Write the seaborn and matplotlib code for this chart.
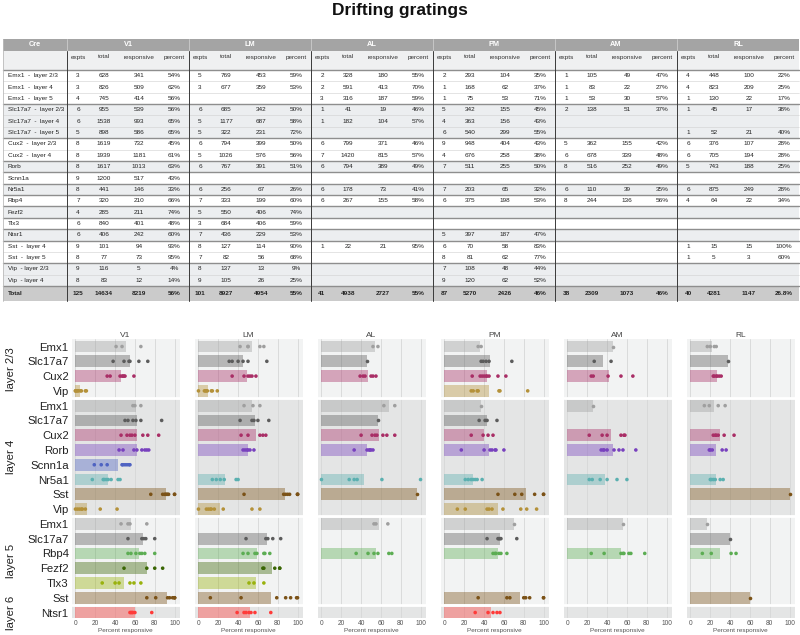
import numpy as np
import pandas as pd
import matplotlib
matplotlib.use("Agg")
from matplotlib import pyplot as plt
from matplotlib.patches import Rectangle
from matplotlib.transforms import blended_transform_factory
import seaborn as sns

AREAS = ["V1", "LM", "AL", "PM", "AM", "RL"]

# ---------------- table data ----------------
TABLE_ROWS = ["Emx1  -  layer 2/3", "Emx1  -  layer 4", "Emx1  -  layer 5",
              "Slc17a7  -  layer 2/3", "Slc17a7  -  layer 4", "Slc17a7  -  layer 5",
              "Cux2  -  layer 2/3", "Cux2  -  layer 4", "Rorb", "Scnn1a", "Nr5a1",
              "Rbp4", "Fezf2", "Tlx3", "Ntsr1", "Sst  -  layer 4", "Sst  -  layer 5",
              "Vip  - layer 2/3", "Vip  - layer 4"]
TABLE_GROUP = [0, 0, 0, 1, 1, 1, 2, 2, 3, 4, 5, 6, 7, 8, 9, 10, 10, 11, 11]
SUB_COLS = ["expts", "total", "responsive", "percent"]

v1_table = [(3, 628, 341, "54%"), (3, 826, 509, "62%"), (4, 745, 414, "56%"),
            (6, 955, 539, "56%"), (6, 1538, 993, "65%"), (5, 898, 586, "65%"),
            (8, 1619, 732, "45%"), (8, 1939, 1181, "61%"), (8, 1617, 1013, "63%"),
            (9, 1200, 517, "43%"), (8, 441, 146, "33%"), (7, 320, 210, "66%"),
            (4, 285, 211, "74%"), (6, 840, 401, "48%"), (6, 406, 242, "60%"),
            (9, 101, 94, "93%"), (8, 77, 73, "95%"), (9, 116, 5, "4%"), (8, 83, 12, "14%")]
lm_table = [(5, 769, 453, "59%"), (3, 677, 359, "53%"), None,
            (6, 685, 342, "50%"), (5, 1177, 687, "58%"), (5, 322, 231, "72%"),
            (6, 794, 399, "50%"), (5, 1026, 576, "56%"), (6, 767, 391, "51%"),
            None, (6, 256, 67, "26%"), (7, 333, 199, "60%"),
            (5, 550, 406, "74%"), (3, 684, 406, "59%"), (7, 436, 229, "53%"),
            (8, 127, 114, "90%"), (7, 82, 56, "68%"), (8, 137, 13, "9%"), (9, 105, 26, "25%")]
al_table = [(2, 328, 180, "55%"), (2, 591, 413, "70%"), (3, 316, 187, "59%"),
            (1, 41, 19, "46%"), (1, 182, 104, "57%"), None,
            (6, 799, 371, "46%"), (7, 1420, 815, "57%"), (6, 794, 389, "49%"),
            None, (6, 178, 73, "41%"), (6, 267, 155, "58%"),
            None, None, None,
            (1, 22, 21, "95%"), None, None, None]
pm_table = [(2, 293, 104, "35%"), (1, 168, 62, "37%"), (1, 75, 53, "71%"),
            (5, 342, 155, "45%"), (4, 363, 156, "43%"), (6, 540, 299, "55%"),
            (9, 948, 404, "43%"), (4, 676, 258, "38%"), (7, 511, 255, "50%"),
            None, (7, 203, 65, "32%"), (6, 375, 198, "53%"),
            None, None, (5, 397, 187, "47%"),
            (6, 70, 58, "83%"), (8, 81, 62, "77%"), (7, 108, 48, "44%"), (9, 120, 62, "52%")]
am_table = [(1, 105, 49, "47%"), (1, 83, 22, "27%"), (1, 53, 30, "57%"),
            (2, 138, 51, "37%"), None, None,
            (5, 362, 155, "42%"), (6, 678, 339, "48%"), (8, 516, 252, "49%"),
            None, (6, 110, 39, "35%"), (8, 244, 136, "56%"),
            None, None, None, None, None, None, None]
rl_table = [(4, 448, 100, "22%"), (4, 823, 209, "25%"), (1, 130, 22, "17%"),
            (1, 45, 17, "38%"), None, (1, 52, 21, "40%"),
            (6, 376, 107, "28%"), (6, 705, 194, "28%"), (5, 743, 188, "25%"),
            None, (6, 875, 249, "28%"), (4, 64, 22, "34%"),
            None, None, None,
            (1, 15, 15, "100%"), (1, 5, 3, "60%"), None, None]
totals = [(125, 14634, 8219, "56%"), (101, 8927, 4954, "55%"), (41, 4938, 2727, "55%"),
          (87, 5270, 2426, "46%"), (38, 2309, 1073, "46%"), (40, 4281, 1147, "26.8%")]

# ---------------- chart data (percent responsive per experiment) ----------------
ROW_CRE = ["Emx1", "Slc17a7", "Cux2", "Vip",
           "Emx1", "Slc17a7", "Cux2", "Rorb", "Scnn1a", "Nr5a1", "Sst", "Vip",
           "Emx1", "Slc17a7", "Rbp4", "Fezf2", "Tlx3", "Sst",
           "Ntsr1"]
LAYERS = ["layer 2/3", "layer 4", "layer 5", "layer 6"]
LAYER_SIZES = [4, 8, 6, 1]

CRE_COLORS = {"Emx1": "#9f9f9f", "Slc17a7": "#5c5c5c", "Cux2": "#a92e66",
              "Rorb": "#7841be", "Scnn1a": "#4f63c2", "Nr5a1": "#5bb0b0",
              "Rbp4": "#5cad53", "Fezf2": "#3a6604", "Tlx3": "#99b20d",
              "Ntsr1": "#ff3b39", "Sst": "#7b5217", "Vip": "#b49139"}

v1_dots = [[41, 47, 66], [38, 49, 54, 55, 64, 73], [32, 35, 45, 47, 48, 49, 50, 59],
           [0, 0, 1, 2, 3, 5, 6, 10, 11],
           [58, 60, 66], [50, 53, 58, 61, 66, 87], [46, 52, 55, 57, 60, 68, 73, 84],
           [44, 48, 59, 62, 67, 70, 72, 74], [19, 26, 32, 47, 48, 50, 52, 54, 55],
           [17, 28, 29, 31, 33, 36, 43, 45], [76, 88, 90, 91, 92, 93, 94, 100, 100],
           [0, 2, 4, 6, 7, 10, 25, 42],
           [46, 53, 55, 72], [53, 67, 69, 71, 80], [53, 56, 61, 65, 67, 70, 80],
           [49, 72, 80, 88], [27, 40, 44, 55, 59, 66], [72, 81, 93, 95, 98, 100, 100, 100],
           [55, 56, 57, 58, 60, 77]]
lm_dots = [[42, 50, 50, 62, 66], [31, 34, 40, 45, 50, 69], [34, 46, 50, 52, 54, 58],
           [0, 6, 7, 8, 9, 13, 14, 19],
           [46, 55, 62], [42, 54, 56, 60, 71], [43, 50, 62, 65, 68],
           [45, 47, 49, 50, 52, 56], [], [14, 18, 22, 26, 38, 40],
           [46, 86, 88, 90, 92, 100, 100, 100], [0, 8, 10, 12, 13, 16, 25, 54, 62],
           [], [48, 68, 70, 75, 83], [45, 50, 57, 59, 66, 67, 72],
           [65, 66, 77, 82, 82], [51, 56, 66], [12, 43, 79, 88, 93, 99, 100],
           [39, 46, 48, 51, 53, 57, 73]]
al_dots = [[52, 57], [46], [39, 42, 44, 50, 52, 55], [],
           [63, 74], [57], [40, 51, 54, 56, 62, 66, 74], [33, 46, 48, 49, 50, 52],
           [], [0, 28, 33, 36, 61, 100], [96], [],
           [53, 55, 67], [], [35, 47, 53, 57, 68, 71], [], [], [],
           []]
pm_dots = [[34, 37], [37, 39, 42, 45, 68], [28, 36, 38, 40, 42, 43, 45, 54, 62],
           [27, 29, 33, 34, 55, 56, 84],
           [37], [35, 41, 43, 53], [27, 39, 44, 49], [17, 40, 46, 48, 51, 52, 60],
           [], [21, 24, 27, 29, 31, 33, 38], [54, 71, 78, 91, 100, 100],
           [13, 21, 43, 45, 48, 59, 77, 83, 93],
           [70], [43, 54, 55, 56, 57, 73], [49, 51, 52, 55, 57, 63], [], [],
           [34, 63, 66, 80, 82, 86, 100, 100],
           [31, 44, 49, 53, 56]]
am_dots = [[46], [27, 44], [24, 26, 41, 54, 66], [],
           [26], [], [22, 35, 40, 54, 57, 58], [34, 36, 37, 40, 47, 52, 56, 69],
           [], [22, 25, 33, 40, 50, 60], [], [],
           [56], [], [24, 37, 54, 56, 57, 62, 64, 78], [], [], [],
           []]
rl_dots = [[17, 20, 24, 26], [38], [23, 24, 26, 27, 29, 31], [],
           [14, 19, 28, 35], [], [23, 25, 26, 28, 34, 44], [19, 20, 22, 32, 36],
           [], [20, 21, 23, 25, 30, 33], [100], [],
           [17], [40], [12, 21, 41, 46], [], [], [60],
           []]

area_tables = [v1_table, lm_table, al_table, pm_table, am_table, rl_table]
area_dots = [v1_dots, lm_dots, al_dots, pm_dots, am_dots, rl_dots]

layer_of_row = np.repeat(np.arange(len(LAYERS)), LAYER_SIZES)
ROW_KEYS = [f"{LAYERS[l]}|{c}" for l, c in zip(layer_of_row, ROW_CRE)]


def panel_frame(dots):
    recs = []
    for i, vals in enumerate(dots):
        for v in vals:
            recs.append({"row": ROW_KEYS[i], "cre": ROW_CRE[i], "pct": v})
    return pd.DataFrame(recs)


sns.set_style("white")
plt.rcParams["font.family"] = ["Liberation Sans", "DejaVu Sans"]

W, H = 800, 635
fig = plt.figure(figsize=(W / 100, H / 100), dpi=100)
fig.text(0.5, 1 - 10 / H, "Drifting gratings", ha="center", va="center",
         fontsize=12.5, fontweight="bold", color="#111111")

# ---------------- table ----------------
tab = fig.add_axes([0, 1 - 305 / H, 1, 305 / H])
tab.set_xlim(0, W)
tab.set_ylim(305, 0)
tab.axis("off")

X0, CRE_W, AREA_W = 3, 64, 122
SUB_W = np.array([22, 30, 40, 30])
sub_center = np.concatenate([[0], np.cumsum(SUB_W)[:-1]]) + SUB_W / 2
X1 = X0 + CRE_W + AREA_W * len(AREAS)
H1_TOP, H1_H = 39, 12
H2_TOP, H2_H = 51, 19
ROW_TOP, ROW_H, TOT_H = 70, 11.37, 15
TOT_TOP = ROW_TOP + ROW_H * len(TABLE_ROWS)
FS = 4.6

tab.add_patch(Rectangle((X0, H1_TOP), X1 - X0, H1_H, color="#a4a4a4", lw=0))
tab.add_patch(Rectangle((X0, H2_TOP), X1 - X0, H2_H, color="#eff0f1", lw=0))
for i, g in enumerate(TABLE_GROUP):
    bg = "#eceef0" if g % 2 else "white"
    tab.add_patch(Rectangle((X0, ROW_TOP + i * ROW_H), X1 - X0, ROW_H, color=bg, lw=0))
tab.add_patch(Rectangle((X0, TOT_TOP), X1 - X0, TOT_H, color="#cbcbcb", lw=0))

tab.text(X0 + CRE_W / 2, H1_TOP + H1_H / 2, "Cre", ha="center", va="center",
         fontsize=5.3, color="white", fontweight="bold")
for k, area in enumerate(AREAS):
    ax_left = X0 + CRE_W + k * AREA_W
    tab.text(ax_left + AREA_W / 2, H1_TOP + H1_H / 2, area, ha="center", va="center",
             fontsize=5.3, color="white", fontweight="bold")
    for c, name in enumerate(SUB_COLS):
        tab.text(ax_left + sub_center[c], H2_TOP + 6, name, ha="center", va="center",
                 fontsize=FS, color="#333333")
    for i, vals in enumerate(area_tables[k]):
        if vals is None:
            continue
        for c, v in enumerate(vals):
            tab.text(ax_left + sub_center[c], ROW_TOP + (i + 0.5) * ROW_H, str(v),
                     ha="center", va="center", fontsize=FS, color="#222222")
    for c, v in enumerate(totals[k]):
        tab.text(ax_left + sub_center[c], TOT_TOP + TOT_H / 2, str(v), ha="center",
                 va="center", fontsize=FS, color="#222222", fontweight="bold")

for i, name in enumerate(TABLE_ROWS):
    tab.text(X0 + 5, ROW_TOP + (i + 0.5) * ROW_H, name, ha="left", va="center",
             fontsize=FS, color="#222222")
tab.text(X0 + 5, TOT_TOP + TOT_H / 2, "Total", ha="left", va="center",
         fontsize=FS, color="#222222", fontweight="bold")

for i in range(len(TABLE_ROWS) + 1):
    y = ROW_TOP + i * ROW_H
    major = i == 0 or i == len(TABLE_ROWS) or TABLE_GROUP[i] != TABLE_GROUP[i - 1]
    tab.plot([X0, X1], [y, y], color="#8e8e8e" if major else "#d0d0d0",
             lw=1.0 if major else 0.4)
for k in range(len(AREAS)):
    x = X0 + CRE_W + k * AREA_W
    tab.plot([x, x], [H1_TOP, H2_TOP], color="#cccccc", lw=0.6)
    tab.plot([x, x], [H2_TOP, TOT_TOP + TOT_H], color="#3a3a3a", lw=0.7)
tab.plot([X0, X0], [H1_TOP, TOT_TOP + TOT_H], color="#bbbbbb", lw=0.6)

# ---------------- bar panels ----------------
BANDS = ["#f2f3f3", "#e4e5e5"]
AX_BOTTOM, AX_TOP = 618, 339
axes = []
for k, (area, dots) in enumerate(zip(AREAS, area_dots)):
    ax = fig.add_axes([(71.5 + 123 * k) / W, 1 - AX_BOTTOM / H, 108 / W,
                       (AX_BOTTOM - AX_TOP) / H])
    axes.append(ax)
    start = 0
    for j, n in enumerate(LAYER_SIZES):
        ax.axhspan(start - 0.5, start + n - 0.5, color=BANDS[j % 2], lw=0, zorder=0)
        if j > 0:
            ax.axhline(start - 0.5, color="white", lw=2, zorder=0.8)
        start += n

    df = panel_frame(dots)
    sns.barplot(data=df, x="pct", y="row", order=ROW_KEYS, hue="cre",
                palette=CRE_COLORS, dodge=False, errorbar=None, saturation=1,
                alpha=0.4, width=0.8, linewidth=0, legend=False, ax=ax)
    sns.stripplot(data=df, x="pct", y="row", order=ROW_KEYS, hue="cre",
                  palette=CRE_COLORS, jitter=False, dodge=False, size=2.6,
                  linewidth=0, legend=False, zorder=3, ax=ax)

    ax.set_xlim(-4, 105)
    ax.set_ylim(18.37, -0.51)
    ax.set_xticks([0, 20, 40, 60, 80, 100])
    ax.xaxis.grid(True, color="#d6d7d7", lw=0.6)
    ax.set_axisbelow(True)
    ax.tick_params(axis="x", length=0, labelsize=4.8, labelcolor="#555555", pad=1.5)
    ax.set_yticks(range(len(ROW_KEYS)))
    if k == 0:
        ax.set_yticklabels(ROW_CRE, fontsize=8.2, color="#222222")
    else:
        ax.set_yticklabels([])
    ax.tick_params(axis="y", length=0, pad=2)
    ax.set_xlabel("Percent responsive", fontsize=4.6, color="#555555", labelpad=1)
    ax.set_ylabel("")
    ax.set_title(area, fontsize=6, color="#444444", pad=1.5)
    sns.despine(ax=ax, left=True, bottom=True)

trans = blended_transform_factory(fig.transFigure, axes[0].transData)
start = 0
for name, n in zip(LAYERS, LAYER_SIZES):
    axes[0].text(11 / W, start + (n - 1) / 2, name, transform=trans, rotation=90,
                 ha="center", va="center", fontsize=8.2, color="#222222", clip_on=False)
    start += n

fig.savefig("out.png", dpi=100)
